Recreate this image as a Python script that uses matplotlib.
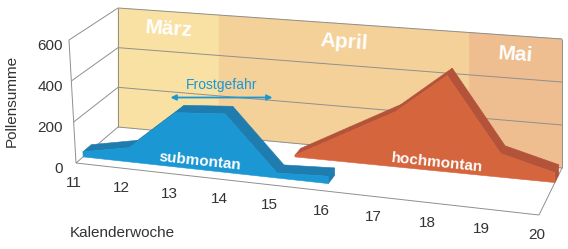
import matplotlib
matplotlib.use('Agg')
import matplotlib.pyplot as plt
from matplotlib.patches import Polygon

# ---- data ----
weeks = [11, 12, 13, 14, 15, 16, 17, 18, 19, 20]
y_ticks = [0, 200, 400, 600]
sub_weeks = [11, 12, 13, 14, 15, 16]
sub_values = [25, 70, 264, 282, 24, 35]
hoch_weeks = [15, 16, 17, 18, 19, 20]
hoch_values = [8, 135, 262, 455, 111, 46]
months = ['März', 'April', 'Mai']
month_bounds = [11, 13.2, 18.25, 20]
frost_weeks = [12.9, 14.95]

# ---- styles ----
FONT = 'Liberation Sans'
GRID = '#8f8f8f'
BLUE_F, BLUE_T = '#1b97d4', '#1e7caf'
ORNG_F, ORNG_T = '#d5653d', '#b3533a'
MONTH_COL = ['#f9e1a3', '#f4d199', '#eebe90']

# perspective box (pixel corners) for (week-axis, value-axis, depth)
W0, W1, VMAX = 11, 20, 600
CORNERS = {
    (0, 0, 0): (76, 163), (0, 1, 0): (69, 40),
    (0, 0, 1): (118, 127), (0, 1, 1): (118, 8),
    (1, 0, 0): (539, 215), (1, 1, 0): (537, 84),
    (1, 0, 1): (562, 168), (1, 1, 1): (562, 39),
}
KW = 0.09


def P(w, v, t):
    u = (w - W0) / (W1 - W0)
    s = u + KW * u * (u - 1)
    r = v / VMAX
    x = y = 0.0
    for i in (0, 1):
        for j in (0, 1):
            for k in (0, 1):
                wt = (s if i else 1 - s) * (r if j else 1 - r) * (t if k else 1 - t)
                cx, cy = CORNERS[(i, j, k)]
                x += wt * cx
                y += wt * cy
    return (x, y)


fig = plt.figure(figsize=(5.68, 2.49), dpi=100)
ax = fig.add_axes([0, 0, 1, 1])
ax.set_xlim(0, 568)
ax.set_ylim(249, 0)
ax.axis('off')

# back wall month bands
for m, (b0, b1), col in zip(months, zip(month_bounds[:-1], month_bounds[1:]), MONTH_COL):
    ax.add_patch(Polygon([P(b0, 0, 1), P(b1, 0, 1), P(b1, VMAX, 1), P(b0, VMAX, 1)],
                         closed=True, fc=col, ec=col, lw=0.5, zorder=1))
    vlab = 0.855 * VMAX
    pa, pb = P(b0, vlab, 1), P(b1, vlab, 1)
    ax.text((pa[0] + pb[0]) / 2, (pa[1] + pb[1]) / 2, m, color='white', fontsize=15,
            fontweight='bold', family=FONT, ha='center', va='center', rotation=-4, zorder=2)

# grid lines
lk = dict(color=GRID, lw=0.7, zorder=1.5, solid_capstyle='butt')
for v in y_ticks:
    a, b = P(W0, v, 0), P(W0, v, 1)
    ax.plot([a[0], b[0]], [a[1], b[1]], **lk)
    a, b = P(W0, v, 1), P(W1, v, 1)
    ax.plot([a[0], b[0]], [a[1], b[1]], **lk)
for (w, t) in [(W0, 0), (W0, 1), (W1, 1)]:
    a, b = P(w, 0, t), P(w, VMAX, t)
    ax.plot([a[0], b[0]], [a[1], b[1]], **lk)
a, b = P(W0, 0, 0), P(W1, 0, 0)
ax.plot([a[0], b[0]], [a[1], b[1]], **lk)
a, b = P(W1, 0, 0), P(W1, 0, 1)
ax.plot([a[0], b[0]], [a[1], b[1]], **lk)


def ribbon(ws, vs, t0, t1, front, top, z):
    ft = [P(w, v, t0) for w, v in zip(ws, vs)]
    bt = [P(w, v, t1) for w, v in zip(ws, vs)]
    fb = [P(w, 0, t0) for w in ws]
    for i in range(len(ws) - 1):
        ax.add_patch(Polygon([ft[i], ft[i + 1], bt[i + 1], bt[i]], closed=True,
                             fc=top, ec=top, lw=0.4, zorder=z))
    ax.add_patch(Polygon([ft[-1], bt[-1], P(ws[-1], 0, t1), fb[-1]], closed=True,
                         fc=top, ec=top, lw=0.4, zorder=z))
    ax.add_patch(Polygon(ft + fb[::-1], closed=True, fc=front, ec=front, lw=0.4,
                         zorder=z + 0.5))


ribbon(hoch_weeks, hoch_values, 0.69, 0.86, ORNG_F, ORNG_T, 3)
ribbon(sub_weeks, sub_values, 0.17, 0.37, BLUE_F, BLUE_T, 5)

# series labels
p = P(13.45, 40, 0.17)
ax.text(p[0], p[1], 'submontan', color='white', fontsize=11, fontweight='bold',
        family=FONT, ha='center', va='center', rotation=-6, zorder=7)
p = P(17.8, 40, 0.69)
ax.text(p[0], p[1], 'hochmontan', color='white', fontsize=11, fontweight='bold',
        family=FONT, ha='center', va='center', rotation=-6, zorder=7)

# Frostgefahr arrow
pa = P(frost_weeks[0], 335, 0.17)
pb = P(frost_weeks[1], 335, 0.17)
ax.annotate('', xy=(pb[0], pa[1]), xytext=(pa[0], pa[1]),
            arrowprops=dict(arrowstyle='<|-|>', color=BLUE_F, lw=1.3,
                            mutation_scale=8, shrinkA=0, shrinkB=0), zorder=8)
ax.text((pa[0] + pb[0]) / 2, pa[1] - 13, 'Frostgefahr', color=BLUE_F, fontsize=10,
        family=FONT, ha='center', va='center', zorder=8)

# tick labels
for v in y_ticks:
    q = P(W0, v, 0)
    ax.text(63, q[1] + 5.5, str(v), fontsize=11, family=FONT, color='#333333',
            ha='right', va='center')
for w in weeks:
    q = P(w, 0, 0)
    ax.text(q[0] - 2, q[1] + 20, str(w), fontsize=11, family=FONT, color='#333333',
            ha='center', va='center')

ax.text(12, 101, 'Pollensumme', fontsize=11, family=FONT, color='#333333',
        rotation=90, ha='center', va='center')
ax.text(122, 233, 'Kalenderwoche', fontsize=11, family=FONT, color='#333333',
        ha='center', va='center')

fig.savefig('out.png', dpi=100)
